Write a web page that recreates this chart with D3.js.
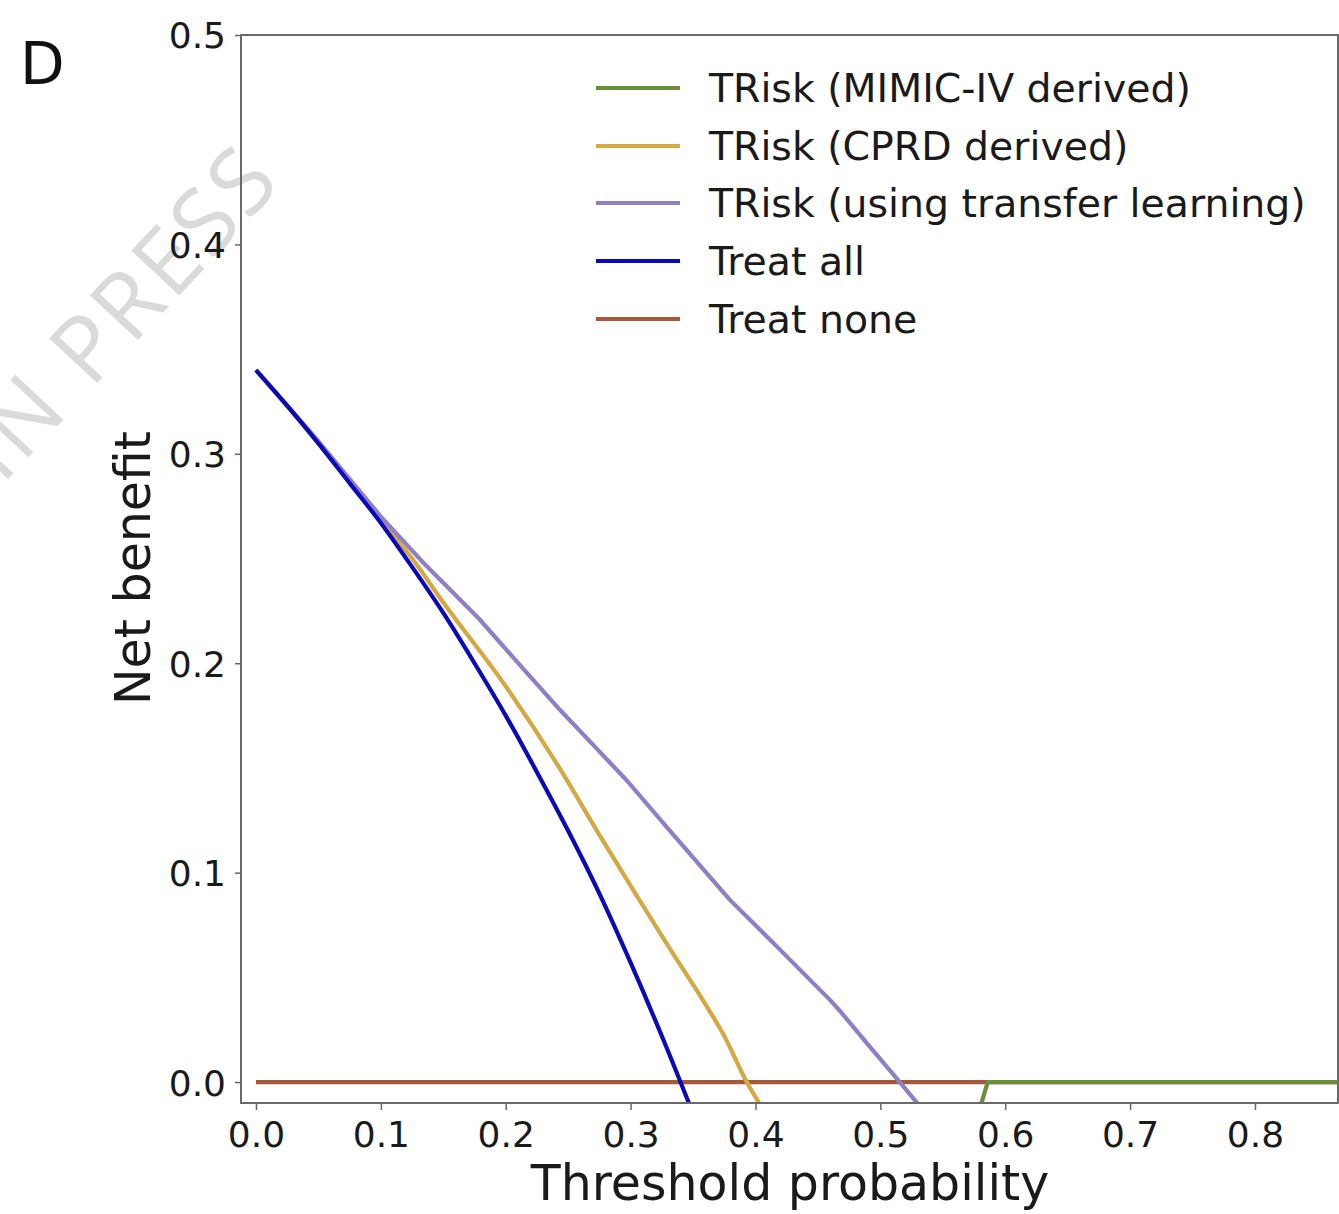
<!DOCTYPE html>
<html>
<head>
<meta charset="utf-8">
<script src="https://cdn.jsdelivr.net/npm/d3@7"></script>
<style>
  body { margin: 0; background: #fff; }
  svg { display: block; font-family: "DejaVu Sans", sans-serif; }
</style>
</head>
<body>
<svg id="chart" width="1339" height="1214"></svg>
<script>
// values
const seriesNames = ["TRisk (MIMIC-IV derived)", "TRisk (CPRD derived)", "TRisk (using transfer learning)", "Treat all", "Treat none"];
const seriesColors = ["#6b8e3a", "#d4a843", "#8f7fc4", "#0a0ab8", "#a5583a"];

const mimicX = [0.55, 0.57, 0.58, 0.586, 0.6, 0.7, 0.8, 0.9, 0.99];
const mimicY = [-0.07, -0.035, -0.012, 0.0, 0.0, 0.0, 0.0, 0.0, 0.0];

const cprdX = [0, 0.05, 0.1, 0.125, 0.15, 0.2, 0.243, 0.275, 0.307, 0.33, 0.358, 0.375, 0.393, 0.405];
const cprdY = [0.340, 0.305, 0.268, 0.250, 0.229, 0.189, 0.150, 0.118, 0.087, 0.065, 0.039, 0.022, 0.0, -0.012];

const transferX = [0, 0.05, 0.1, 0.134, 0.179, 0.21, 0.243, 0.27, 0.297, 0.33, 0.3635, 0.3795, 0.42, 0.46, 0.4676, 0.49, 0.5156, 0.535];
const transferY = [0.340, 0.306, 0.270, 0.248, 0.221, 0.200, 0.178, 0.161, 0.144, 0.121, 0.098, 0.087, 0.063, 0.039, 0.034, 0.018, 0.0, -0.014];

const treatAllX = [0, 0.025, 0.05, 0.075, 0.1, 0.125, 0.15, 0.175, 0.2, 0.225, 0.25, 0.275, 0.3, 0.325, 0.35];
const treatAllY = [0.340, 0.323, 0.305, 0.286, 0.267, 0.246, 0.224, 0.200, 0.175, 0.148, 0.120, 0.090, 0.057, 0.022, -0.015];

const treatNoneX = [0, 0.99];
const treatNoneY = [0, 0];

const xTicks = [0, 0.1, 0.2, 0.3, 0.4, 0.5, 0.6, 0.7, 0.8];
const yTicks = [0, 0.1, 0.2, 0.3, 0.4, 0.5];

const svg = d3.select("#chart");
const plotLeft = 241, plotRight = 1338, plotTop = 35, plotBottom = 1103;

const x = d3.scaleLinear().domain([-0.012, 0.8665]).range([plotLeft, plotRight]);
const y = d3.scaleLinear().domain([-0.01, 0.5]).range([plotBottom, plotTop]);

// watermark (cut by the left edge, as in the source)
svg.append("text")
  .attr("transform", "translate(285,182) rotate(-47)")
  .attr("text-anchor", "end")
  .style("font-family", "'Open Sans', sans-serif")
  .style("font-size", "92px")
  .style("letter-spacing", "4px")
  .attr("fill", "#dadada")
  .text("ARTICLE IN PRESS");

// panel letter
svg.append("text").attr("x", 20).attr("y", 84)
  .style("font-size", "58px").attr("fill", "#111").text("D");

svg.append("clipPath").attr("id", "plotclip")
  .append("rect").attr("x", plotLeft).attr("y", plotTop)
  .attr("width", plotRight - plotLeft).attr("height", plotBottom - plotTop);

const series = [
  [mimicX, mimicY],
  [cprdX, cprdY],
  [transferX, transferY],
  [treatAllX, treatAllY],
  [treatNoneX, treatNoneY]
];
const smooth = [false, true, false, true, false];
// drawing order: treat none underneath, treat all on top
const drawOrder = [4, 0, 1, 2, 3];
const plot = svg.append("g").attr("clip-path", "url(#plotclip)");
drawOrder.forEach(i => {
  const pts = series[i][0].map((v, k) => [v, series[i][1][k]]);
  const line = d3.line().x(d => x(d[0])).y(d => y(d[1]))
    .curve(smooth[i] ? d3.curveMonotoneX : d3.curveLinear);
  plot.append("path").datum(pts)
    .attr("d", line)
    .attr("fill", "none")
    .attr("stroke", seriesColors[i])
    .attr("stroke-width", 4.2)
    .attr("stroke-linejoin", "round");
});

// axes
const xAxis = svg.append("g").attr("transform", `translate(0,${plotBottom})`)
  .call(d3.axisBottom(x).tickValues(xTicks).tickFormat(d3.format(".1f")).tickSize(7).tickPadding(8));
const yAxis = svg.append("g").attr("transform", `translate(${plotLeft},0)`)
  .call(d3.axisLeft(y).tickValues(yTicks).tickFormat(d3.format(".1f")).tickSize(6).tickPadding(9));
[xAxis, yAxis].forEach(a => {
  a.select(".domain").remove();
  a.selectAll(".tick line").attr("stroke", "#666").attr("stroke-width", 1.5);
  a.selectAll(".tick text").style("font-size", "36px").style("font-family", "'DejaVu Sans', sans-serif").attr("fill", "#1a1a1a");
});
yAxis.selectAll(".tick text").attr("dy", "0.36em");
xAxis.selectAll(".tick text").attr("dy", "0.8em");

// frame
svg.append("rect").attr("x", plotLeft).attr("y", plotTop)
  .attr("width", plotRight - plotLeft).attr("height", plotBottom - plotTop)
  .attr("fill", "none").attr("stroke", "#6a6a6a").attr("stroke-width", 2);

// axis titles
svg.append("text").attr("x", 790).attr("y", 1200).attr("text-anchor", "middle")
  .style("font-size", "49px").attr("fill", "#1a1a1a").text("Threshold probability");
svg.append("text").attr("transform", "translate(150,568) rotate(-90)").attr("text-anchor", "middle")
  .style("font-size", "49px").attr("fill", "#1a1a1a").text("Net benefit");

// legend
const legendRows = [88, 146, 203, 261, 319];
seriesNames.forEach((name, i) => {
  const g = svg.append("g").attr("transform", `translate(0,${legendRows[i]})`);
  g.append("line").attr("x1", 596).attr("x2", 680).attr("y1", 0).attr("y2", 0)
    .attr("stroke", seriesColors[i]).attr("stroke-width", 4.2);
  g.append("text").attr("x", 709).attr("y", 0).attr("dy", "0.36em")
    .style("font-size", "39.4px").attr("fill", "#1a1a1a").text(name);
});
</script>
</body>
</html>
